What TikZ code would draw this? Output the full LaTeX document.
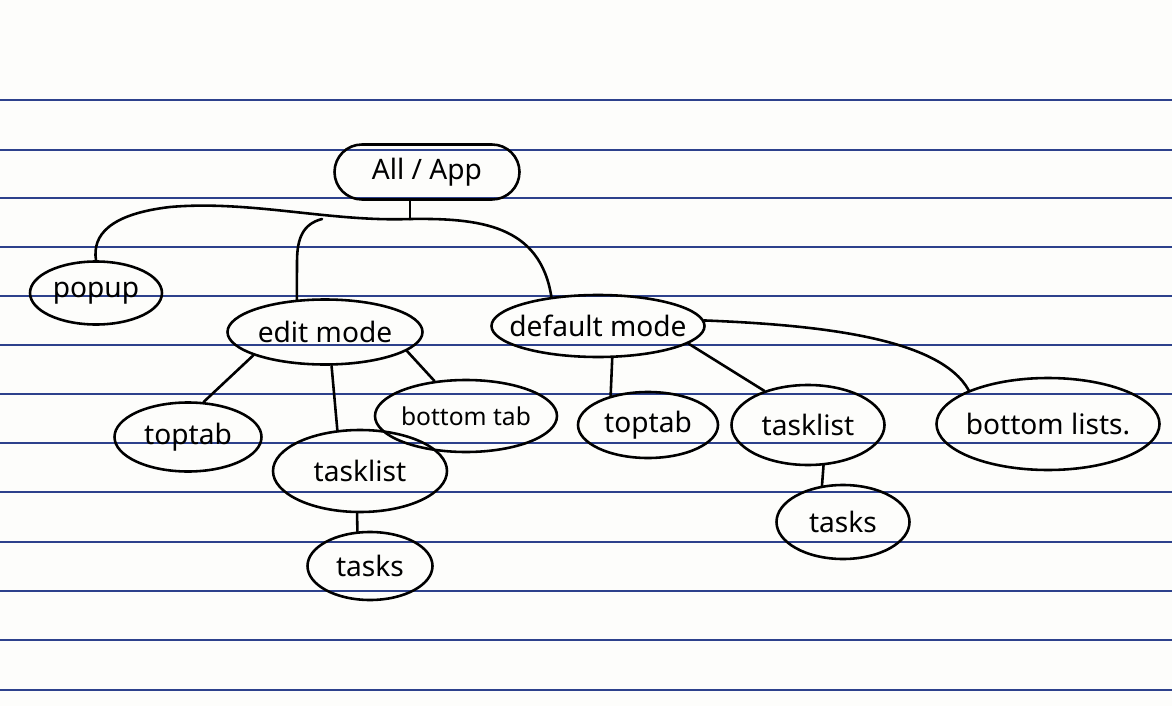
\documentclass[tikz,border=0pt]{standalone}
\usepackage{fontspec}
\setmainfont{Noto Sans}
\usetikzlibrary{shapes.geometric,shapes.misc}
\definecolor{ruled}{RGB}{45,65,140}
\definecolor{paper}{RGB}{253,253,251}
\newcommand{\lbl}[1]{\makebox[0pt]{#1}}
\tikzset{
  bubble/.style={ellipse, draw=black, line width=2.2pt, inner sep=0pt,
    font=\fontsize{24}{28}\selectfont},
  rootbox/.style={rounded rectangle, draw=black, line width=2.2pt, inner sep=0pt,
    font=\fontsize{24}{28}\selectfont},
  link/.style={draw=black, line width=2.2pt, line cap=round, line join=round},
  paperline/.style={draw=ruled, line width=1.4pt}
}
\begin{document}
\begin{tikzpicture}[x=0.03cm,y=-0.03cm]
\useasboundingbox (0,0) rectangle (1172,706);
\fill[paper] (0,0) rectangle (1172,706);
% ruled lines
\foreach \yy in {100,150,198,247,296,345,394,443,492,542,591,640,690}
  \draw[paperline] (0,\yy) -- (1172,\yy);

% nodes
\node[rootbox, minimum width=185*0.03cm, minimum height=55*0.03cm] (app) at (427,172) {\lbl{All / App}};
\node[bubble, minimum width=132*0.03cm, minimum height=63*0.03cm] (popup) at (96,293) {\lbl{popup}};
\node[bubble, minimum width=195*0.03cm, minimum height=65*0.03cm] (edit) at (325,332) {\lbl{edit mode}};
\node[bubble, minimum width=213*0.03cm, minimum height=62*0.03cm] (default) at (598,326) {\lbl{default mode}};
\node[bubble, minimum width=147*0.03cm, minimum height=69*0.03cm] (toptabL) at (188,437) {\lbl{toptab}};
\node[bubble, minimum width=174*0.03cm, minimum height=82*0.03cm] (tasklistL) at (360,471) {\lbl{tasklist}};
\node[bubble, minimum width=182*0.03cm, minimum height=72*0.03cm, font=\fontsize{21}{25}\selectfont] (bottomtab) at (466,416) {\lbl{bottom tab}};
\node[bubble, minimum width=140*0.03cm, minimum height=66*0.03cm] (toptabR) at (648,425) {\lbl{toptab}};
\node[bubble, minimum width=153*0.03cm, minimum height=80*0.03cm] (tasklistR) at (808,425) {\lbl{tasklist}};
\node[bubble, minimum width=223*0.03cm, minimum height=92*0.03cm] (bottomlists) at (1048,424) {\lbl{bottom lists.}};
\node[bubble, minimum width=125*0.03cm, minimum height=68*0.03cm] (tasksL) at (370,566) {\lbl{tasks}};
\node[bubble, minimum width=133*0.03cm, minimum height=74*0.03cm] (tasksR) at (843,522) {\lbl{tasks}};

% tree junctions
\coordinate (jct) at (410,219);
\coordinate (ebr) at (322,219);

% root stem and bar
\draw[link] (jct) -- (jct |- app.south);
\draw[link] (jct) .. controls (330,222) and (250,200) .. (170,207)
               .. controls (110,214) and (92,235) .. (popup.north);
\draw[link] (jct) .. controls (480,218) and (540,225) .. (default.148);
\draw[link] (ebr) .. controls (303,224) and (297,238) .. (297,262) -- (edit.131);

% edit mode children
\draw[link] (edit.198) -- (toptabL.66);
\draw[link] (edit.281) -- (tasklistL.119);
\draw[link] (edit.347) -- (bottomtab.132);
\draw[link] (tasklistL.266) -- (tasksL.110);

% default mode children
\draw[link] (default.294) -- (toptabR.142);
\draw[link] (default.349) -- (tasklistR.142);
\draw[link] (default.3) .. controls (820,325) and (940,338) .. (bottomlists.157);
\draw[link] (tasklistR.291) -- (tasksR.120);
\end{tikzpicture}
\end{document}
